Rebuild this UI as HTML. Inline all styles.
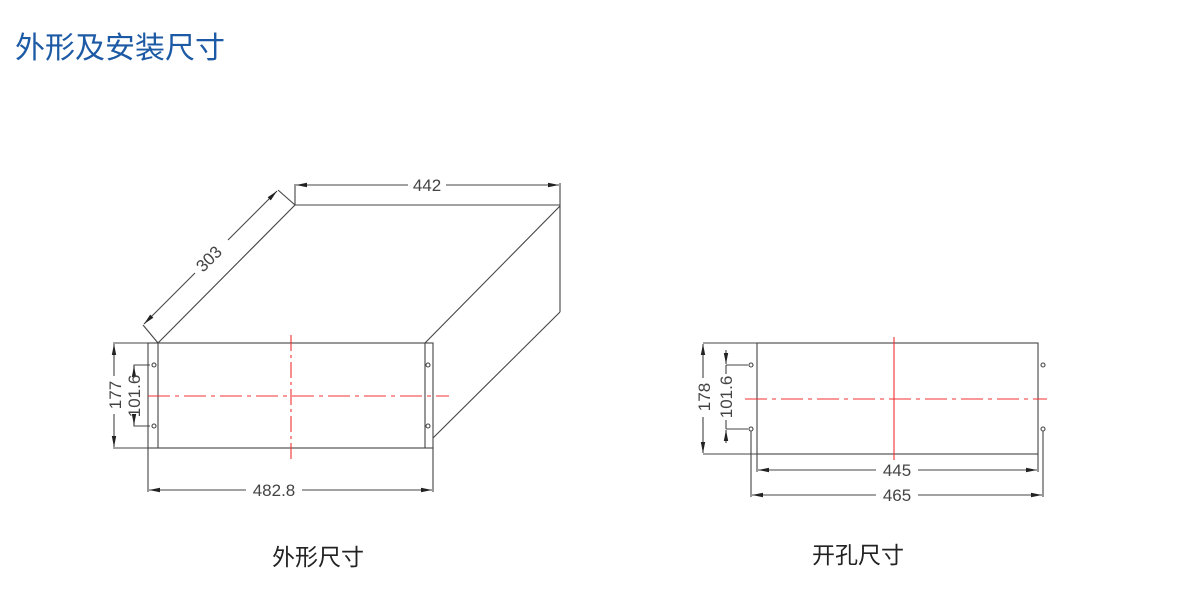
<!DOCTYPE html>
<html><head><meta charset="utf-8"><style>
html,body{margin:0;padding:0;background:#fff;width:1200px;height:608px;overflow:hidden}
.t{position:absolute;font-family:"Liberation Sans","Noto Sans CJK SC",sans-serif;white-space:nowrap}
</style></head><body>
<div class="t" style="left:15px;top:23px;font-size:30px;color:#1d5aa5">外形及安装尺寸</div>
<div class="t" style="left:272px;top:538px;font-size:23px;color:#222">外形尺寸</div>
<div class="t" style="left:812px;top:536px;font-size:23px;color:#222">开孔尺寸</div>
<svg width="1200" height="608" style="position:absolute;left:0;top:0" font-family="Liberation Sans, sans-serif" font-size="17" fill="none" stroke="#444" stroke-width="1.1">
<defs><marker id="a" viewBox="0 0 10 6" refX="10" refY="3" markerWidth="10" markerHeight="6" orient="auto-start-reverse"><path d="M0,1 L10,3 L0,5z" fill="#222" stroke="none"/></marker></defs>
<rect x="148" y="343" width="285" height="105"/>
<line x1="158" y1="343" x2="158" y2="448"/>
<line x1="425" y1="343" x2="425" y2="448"/>
<line x1="295" y1="205" x2="560" y2="205"/>
<line x1="560" y1="205" x2="560" y2="312"/>
<line x1="158" y1="343" x2="295" y2="205"/>
<line x1="425" y1="343" x2="560" y2="206"/>
<line x1="433" y1="438" x2="560" y2="312"/>
<line x1="295" y1="205" x2="295" y2="184"/><line x1="560" y1="205" x2="560" y2="183"/>
<line x1="296" y1="185" x2="408" y2="185" marker-start="url(#a)"/><line x1="446" y1="185" x2="559" y2="185" marker-end="url(#a)"/>
<text x="427" y="191" fill="#444" stroke="none" text-anchor="middle">442</text>
<line x1="295" y1="205" x2="278" y2="190"/><line x1="158" y1="343" x2="143" y2="325"/>
<line x1="144" y1="324" x2="195" y2="273" marker-start="url(#a)"/><line x1="228" y1="240" x2="277" y2="191" marker-end="url(#a)"/>
<text transform="translate(213,263) rotate(-45)" fill="#444" stroke="none" text-anchor="middle">303</text>
<line x1="113" y1="343" x2="148" y2="343"/><line x1="113" y1="448" x2="148" y2="448"/>
<line x1="114" y1="344" x2="114" y2="376" marker-start="url(#a)"/><line x1="114" y1="414" x2="114" y2="447" marker-end="url(#a)"/>
<text transform="translate(121,395) rotate(-90)" fill="#444" stroke="none" text-anchor="middle">177</text>
<polyline points="150,365 134,365 134,374"/><polyline points="150,426 134,426 134,418"/>
<line x1="134" y1="372" x2="134" y2="366" marker-end="url(#a)"/><line x1="134" y1="420" x2="134" y2="425" marker-end="url(#a)"/>
<text transform="translate(140,396) rotate(-90)" fill="#444" stroke="none" text-anchor="middle">101.6</text>
<circle cx="154" cy="365" r="2"/><circle cx="154" cy="426" r="2"/><circle cx="428" cy="365" r="2"/><circle cx="428" cy="426" r="2"/>
<line x1="148" y1="448" x2="148" y2="492"/><line x1="433" y1="448" x2="433" y2="492"/>
<line x1="149" y1="490" x2="246" y2="490" marker-start="url(#a)"/><line x1="302" y1="490" x2="432" y2="490" marker-end="url(#a)"/>
<text x="274" y="496" fill="#444" stroke="none" text-anchor="middle">482.8</text>
<g stroke="#f03030"><line x1="291" y1="335" x2="291" y2="459" stroke-dasharray="16,4,3,4"/><line x1="148" y1="396" x2="449" y2="396" stroke-dasharray="22,5,4,5"/></g>
<rect x="757" y="343" width="281" height="111"/>
<line x1="703" y1="343" x2="757" y2="343"/><line x1="703" y1="454" x2="757" y2="454"/>
<line x1="703" y1="344" x2="703" y2="378" marker-start="url(#a)"/><line x1="703" y1="417" x2="703" y2="453" marker-end="url(#a)"/>
<text transform="translate(710,397) rotate(-90)" fill="#444" stroke="none" text-anchor="middle">178</text>
<line x1="726" y1="365" x2="748" y2="365"/><line x1="726" y1="429" x2="748" y2="429"/>
<line x1="726" y1="350" x2="726" y2="364" marker-end="url(#a)"/><line x1="726" y1="443" x2="726" y2="430" marker-end="url(#a)"/>
<line x1="726" y1="365" x2="726" y2="374"/><line x1="726" y1="429" x2="726" y2="420"/>
<text transform="translate(732,397) rotate(-90)" fill="#444" stroke="none" text-anchor="middle">101.6</text>
<circle cx="751" cy="365" r="2"/><circle cx="751" cy="429" r="2"/><circle cx="1043" cy="365" r="2"/><circle cx="1043" cy="429" r="2"/>
<line x1="757" y1="454" x2="757" y2="472"/><line x1="1038" y1="454" x2="1038" y2="472"/>
<line x1="758" y1="470" x2="876" y2="470" marker-start="url(#a)"/><line x1="918" y1="470" x2="1037" y2="470" marker-end="url(#a)"/>
<text x="897" y="476" fill="#444" stroke="none" text-anchor="middle">445</text>
<line x1="751" y1="431" x2="751" y2="497"/><line x1="1043" y1="431" x2="1043" y2="497"/>
<line x1="752" y1="495" x2="876" y2="495" marker-start="url(#a)"/><line x1="918" y1="495" x2="1042" y2="495" marker-end="url(#a)"/>
<text x="897" y="501" fill="#444" stroke="none" text-anchor="middle">465</text>
<g stroke="#f03030"><line x1="894" y1="337" x2="894" y2="460"/><line x1="745" y1="399" x2="1047" y2="399" stroke-dasharray="22,5,4,5"/></g>
</svg>
</body></html>
